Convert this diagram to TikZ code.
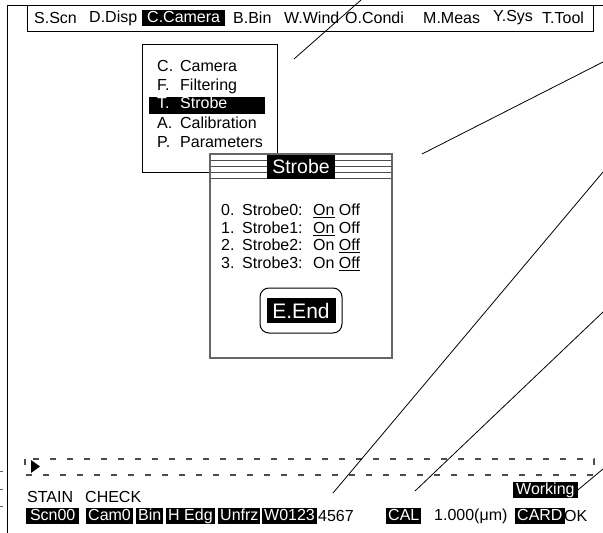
\documentclass[tikz,border=0pt]{standalone}
\usepackage{fontspec}
\setmainfont{Liberation Sans}
\newcommand{\mfont}{\fontsize{16}{18}\selectfont}
\newcommand{\tfont}{\fontsize{19.5}{22}\selectfont}
\newcommand{\efont}{\fontsize{21}{24}\selectfont}
\tikzset{
  lbl/.style={anchor=west, inner sep=0pt, font=\mfont},
  inv/.style={anchor=west, fill=black, text=white, font=\mfont, inner xsep=3pt,
    inner ysep=0pt, text height=12pt, text depth=3.5pt},
  item/.style={anchor=west, inner xsep=8pt, inner ysep=1pt, text width=100pt,
    font=\mfont, text height=11pt, text depth=4pt},
  leader/.style={line width=0.8pt},
  dlg/.style={draw=black!60, line width=1.3pt}
}
\begin{document}
\begin{tikzpicture}[x=1pt,y=-1pt]
    \useasboundingbox (0,0) rectangle (603,533);

    % screen frame and menu bar
    \draw[line width=0.9pt] (7,533) -- (7,5) -- (603,5);
    \draw[line width=0.9pt] (27,5) rectangle (593,31);
    \node[lbl] (scn) at (34,18) {S.Scn};
    \node[lbl] (disp) at (89,18) {D.Disp};
    \node[inv, inner xsep=5pt] (cam) at (142,18) {C.Camera};
    \node[lbl] (bin) at (233,18) {B.Bin};
    \node[lbl] (wind) at (284,18) {W.Wind};
    \node[lbl] (condi) at (345,18) {O.Condi};
    \node[lbl] (meas) at (423,18) {M.Meas};
    \node[lbl] (sys) at (493,18) {Y.Sys};
    \node[lbl] (tool) at (542,18) {T.Tool};

    % camera sub menu
    \draw[line width=0.9pt] (142,172) -- (142,44) -- (277,44) -- (277,172) -- cycle;
    \node[item] (mcam) at (149,68) {\makebox[23pt][l]{C.}Camera};
    \node[item] (mfilt) at (149,87) {\makebox[23pt][l]{F.}Filtering};
    \node[item, fill=black, text=white] (mstrobe) at (149,105) {\makebox[23pt][l]{T.}Strobe};
    \node[item] (mcal) at (149,125) {\makebox[23pt][l]{A.}Calibration};
    \node[item] (mpar) at (149,144) {\makebox[23pt][l]{P.}Parameters};

    % strobe dialog
    \fill[white] (210,154) rectangle (392,358);
    \draw[black!70, line width=0.8pt] (210,160) -- (392,160);
    \draw[black!70, line width=0.8pt] (210,166) -- (392,166);
    \draw[black!70, line width=0.8pt] (210,172) -- (392,172);
    \draw[black!70, line width=0.8pt] (210,178) -- (392,178);
    \draw[dlg] (210,154) rectangle (392,358);
    \node[fill=black, text=white, font=\tfont, inner xsep=5pt, minimum height=24pt,
      inner ysep=0pt] (title) at (301,167) {Strobe};
    \node[lbl] (s0) at (221,211) {\makebox[21pt][l]{0.}\makebox[71pt][l]{Strobe0:}\underline{On} Off};
    \node[lbl] (s1) at (221,229) {\makebox[21pt][l]{1.}\makebox[71pt][l]{Strobe1:}\underline{On} Off};
    \node[lbl] (s2) at (221,246) {\makebox[21pt][l]{2.}\makebox[71pt][l]{Strobe2:}On \underline{Off}};
    \node[lbl] (s3) at (221,264) {\makebox[21pt][l]{3.}\makebox[71pt][l]{Strobe3:}On \underline{Off}};
    \node[draw, line width=1pt, rounded corners=9pt, minimum width=82pt,
      minimum height=45pt] (endbtn) at (301,310.5) {};
    \node[fill=black, text=white, font=\efont, minimum width=69pt, minimum height=25pt,
      inner sep=0pt] (endtxt) at (endbtn) {E.End};

    % message line
    \draw[black!70, line width=1.2pt, dash pattern=on 6pt off 11pt] (25,459) rectangle (594,475);
    \fill (31,460) -- (40,466.5) -- (31,473) -- cycle;

    % status line
    \node[lbl] (stain) at (27,497) {STAIN};
    \node[lbl] (check) at (85,497) {CHECK};
    \node[inv, minimum width=53pt, inner xsep=2pt, align=left] (st0) at (26,516) {Scn00\hfill};
    \node[inv, inner xsep=2pt] (st1) at (86,516) {Cam0};
    \node[inv, inner xsep=2pt] (st2) at (136,516) {Bin};
    \node[inv, inner xsep=2pt] (st3) at (166,516) {H Edg};
    \node[inv, inner xsep=2pt] (st4) at (218,516) {Unfrz};
    \node[inv, inner xsep=2pt] (st5) at (262,516) {W0123};
    \node[lbl] (st6) at (318,516) {4567};
    \node[inv, inner xsep=2pt] (st7) at (386,516) {CAL};
    \node[lbl] (st8) at (434,516) {1.000(μm)};
    \node[inv, inner xsep=2pt] (st9) at (515,516) {CARD};
    \node[lbl] (st10) at (564,516) {OK};
    \node[inv] (wk) at (513,490) {Working};

    % leader lines
    \coordinate (l1a) at (361,0);
    \coordinate (l1b) at (294,59);
    \coordinate (l2a) at (603,62);
    \coordinate (l2b) at (422,154);
    \coordinate (l3a) at (603,172);
    \coordinate (l3b) at (333,493);
    \coordinate (l4a) at (603,312);
    \coordinate (l4b) at (415,491);
    \coordinate (l5a) at (603,469);
    \draw[leader] (l1a) -- (l1b);
    \draw[leader] (l2a) -- (l2b);
    \draw[leader] (l3a) -- (l3b);
    \draw[leader] (l4a) -- (l4b);
    \draw[leader] (l5a) -- (wk.east);
    \draw[black!60] (0,471) -- (3,471);
    \draw[black!60] (0,489) -- (3,489);
    \draw[black!60] (0,506) -- (3,506);
  \end{tikzpicture}
\end{document}
